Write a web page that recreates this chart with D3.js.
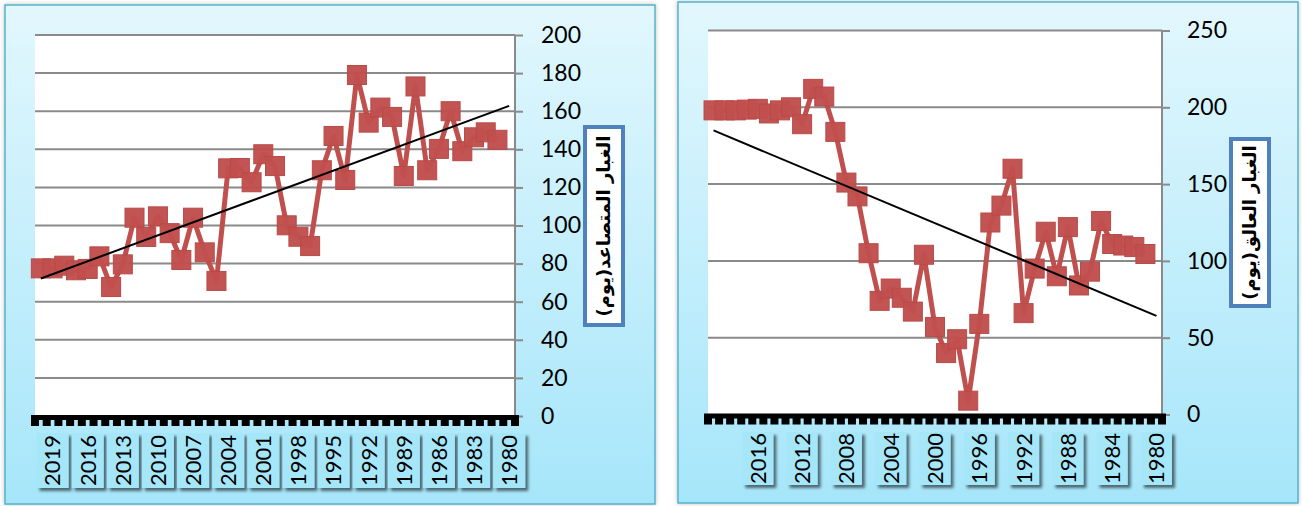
<!DOCTYPE html>
<html><head><meta charset="utf-8">
<script src="https://cdn.jsdelivr.net/npm/d3@7/dist/d3.min.js"></script>
<style>body{margin:0;background:#fff;} svg{display:block}</style>
</head><body><svg id="c" width="1302" height="506"></svg>
<script>
// ---------- data ----------
const years = ["2020","2019","2018","2017","2016","2015","2014","2013","2012","2011",
  "2010","2009","2008","2007","2006","2005","2004","2003","2002","2001",
  "2000","1999","1998","1997","1996","1995","1994","1993","1992","1991",
  "1990","1989","1988","1987","1986","1985","1984","1983","1982","1981","1980"];
const risingDust = [77.5,77.5,78.9,76.5,77.2,83.8,67.7,79.6,104.1,94,
  104.8,96,81.9,104.1,85.9,70.9,130,130.2,122.7,137.4,
  131.2,100.1,94.1,89.2,129,147,123.9,179,154,161.9,
  157,126,173,129,140.2,160,139,146.3,148.9,145,null];
const suspendedDust = [198,198,198,198.5,199,196,198,200,189,212,
  207,184,151,142,105,74,82,76,67,104,
  57,40,49,9,59,125,136,160,66,95,
  119,90,122,84,93,126,111,110,109,104.5,null];
const leftTickLabels = ["2019","2016","2013","2010","2007","2004","2001","1998","1995","1992","1989","1986","1983","1980"];
const rightTickLabels = ["2016","2012","2008","2004","2000","1996","1992","1988","1984","1980"];
const leftYTicks = [0,20,40,60,80,100,120,140,160,180,200];
const rightYTicks = [0,50,100,150,200,250];
const leftTitle = "الغبار المتصاعد(يوم)";
const rightTitle = "الغبار العالق(يوم)";

// ---------- drawing ----------
const svg = d3.select("#c");
const defs = svg.append("defs");
const grad = defs.append("linearGradient").attr("id","bg").attr("x1",0).attr("y1",0).attr("x2",0).attr("y2",1);
grad.append("stop").attr("offset","0%").attr("stop-color","#e2f7fd");
grad.append("stop").attr("offset","100%").attr("stop-color","#a6e6fa");
const sh = defs.append("filter").attr("id","sh").attr("x","-30%").attr("y","-30%").attr("width","160%").attr("height","160%");
sh.append("feDropShadow").attr("dx",3).attr("dy",3).attr("stdDeviation",1.6).attr("flood-color","#000").attr("flood-opacity",0.55);
const bsh = defs.append("filter").attr("id","bsh").attr("x","-5%").attr("y","-5%").attr("width","110%").attr("height","110%");
bsh.append("feDropShadow").attr("dx",0).attr("dy",0).attr("stdDeviation",2).attr("flood-color","#000").attr("flood-opacity",0.25);

function drawChart(cfg){
  const g = svg.append("g");
  g.append("rect").attr("x",cfg.box[0]).attr("y",cfg.box[1])
    .attr("width",cfg.box[2]-cfg.box[0]).attr("height",cfg.box[3]-cfg.box[1])
    .attr("fill","url(#bg)").attr("stroke","#55b2cb").attr("stroke-width",1.5).attr("filter","url(#bsh)");
  const x = d3.scaleBand().domain(years).range([cfg.l, cfg.r]).padding(0);
  const y = d3.scaleLinear().domain([0, cfg.yMax]).range([cfg.b, cfg.t]);
  const cx = d => x(d) + x.bandwidth()/2;
  // plot area
  g.append("rect").attr("x",cfg.l).attr("y",cfg.t).attr("width",cfg.r-cfg.l).attr("height",cfg.b-cfg.t).attr("fill","#fff");
  // gridlines
  g.append("g").selectAll("line").data(cfg.yTicks.filter(v=>v>0)).join("line")
    .attr("x1",cfg.l).attr("x2",cfg.r).attr("y1",d=>y(d)).attr("y2",d=>y(d))
    .attr("stroke","#8a8a8a").attr("stroke-width",2);
  // y axis on right
  const ya = g.append("g").attr("transform",`translate(${cfg.r},0)`)
    .call(d3.axisRight(y).tickValues(cfg.yTicks).tickSize(8).tickPadding(cfg.pad));
  ya.select(".domain").attr("stroke","#8a8a8a").attr("stroke-width",2).attr("d",`M0,${cfg.t}V${cfg.b}`);
  ya.selectAll(".tick line").attr("stroke","#8a8a8a").attr("stroke-width",2);
  ya.selectAll(".tick text").attr("font-family","Lato, 'Liberation Sans', sans-serif").attr("font-size",23).attr("fill","#000");
  // x axis comb
  const xa = g.append("g");
  xa.append("rect").attr("x",cfg.l-4).attr("y",cfg.b-1).attr("width",cfg.r-cfg.l+8).attr("height",5).attr("fill","#000");
  const bounds = years.map(d=>x(d)).concat([cfg.r]);
  xa.selectAll("rect.tk").data(bounds).join("rect").attr("class","tk")
    .attr("x",d=>d-4).attr("y",cfg.b).attr("width",8).attr("height",10).attr("fill","#000");
  // x labels
  const lab = g.append("g").selectAll("g").data(cfg.xLabels).join("g")
    .attr("transform",d=>`translate(${cx(d)},${(cfg.labT+cfg.labB)/2})`);
  lab.append("rect").attr("x",-cfg.labW/2).attr("y",-(cfg.labB-cfg.labT)/2).attr("width",cfg.labW).attr("height",cfg.labB-cfg.labT)
    .attr("fill","#a6e6f9").attr("filter","url(#sh)");
  lab.append("text").attr("transform","rotate(-90)").attr("text-anchor","middle").attr("dy","0.36em")
    .attr("font-family","Lato, 'Liberation Sans', sans-serif").attr("font-size",22).attr("fill","#000").text(d=>d);
  // data line
  const pts = years.map((d,i)=>({k:d, v:cfg.values[i]}));
  const line = d3.line().defined(d=>d.v!=null).x(d=>cx(d.k)).y(d=>y(d.v));
  g.append("path").datum(pts).attr("d",line).attr("fill","none").attr("stroke","#c0504d").attr("stroke-width",5).attr("stroke-linejoin","round");
  g.append("g").selectAll("rect").data(pts.filter(d=>d.v!=null)).join("rect")
    .attr("x",d=>cx(d.k)-9.5).attr("y",d=>y(d.v)-9.5).attr("width",19).attr("height",19)
    .attr("fill","#c0504d").attr("stroke","#b84a47").attr("stroke-width",1).attr("fill-opacity",0.97);
  // linear trendline
  const known = pts.map((d,i)=>({i, v:d.v})).filter(d=>d.v!=null);
  const mx = d3.mean(known,d=>d.i), my = d3.mean(known,d=>d.v);
  const slope = d3.sum(known,d=>(d.i-mx)*(d.v-my))/d3.sum(known,d=>(d.i-mx)*(d.i-mx));
  const icpt = my - slope*mx;
  const last = years.length-1;
  g.append("line").attr("x1",cx(years[0])).attr("y1",y(icpt)).attr("x2",cx(years[last])).attr("y2",y(icpt+slope*last))
    .attr("stroke","#000").attr("stroke-width",2);
  // title box
  g.append("rect").attr("x",cfg.tb[0]).attr("y",cfg.tb[1]).attr("width",cfg.tb[2]).attr("height",cfg.tb[3])
    .attr("fill","#fff").attr("stroke","#4f81bd").attr("stroke-width",4);
  g.append("text").attr("transform",`translate(${cfg.tb[0]+cfg.tb[2]/2},${cfg.tb[1]+cfg.tb[3]/2}) rotate(-90)`)
    .attr("text-anchor","middle").attr("dy","0.35em").attr("font-family","'DejaVu Sans', sans-serif").attr("font-weight","bold")
    .attr("font-size",cfg.tfs).attr("fill","#000").text(cfg.title);
}

drawChart({box:[5,5,655,504], l:35, r:515, t:35, b:416, yMax:200, yTicks:leftYTicks, pad:18,
  values:risingDust, xLabels:leftTickLabels, labT:433, labB:488, labW:32,
  tb:[585,127,38,198], title:leftTitle, tfs:18});
drawChart({box:[678,2,1298,503], l:708, r:1162, t:30.5, b:414.5, yMax:250, yTicks:rightYTicks, pad:17,
  values:suspendedDust, xLabels:rightTickLabels, labT:432, labB:485, labW:31,
  tb:[1231,139,38,167], title:rightTitle, tfs:18});
</script></body></html>
